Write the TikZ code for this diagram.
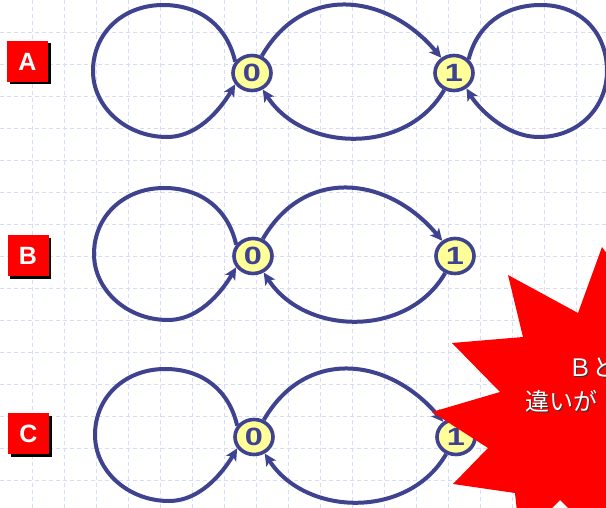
\documentclass[tikz,border=0pt]{standalone}
\usepackage{fontspec}
\usetikzlibrary{arrows.meta,shapes.geometric,shadows,calc}
\newfontfamily\labfont{Liberation Sans}
\newfontfamily\cjkfont{Noto Sans CJK JP}
\definecolor{edgeblue}{RGB}{62,66,143}
\definecolor{nodeyellow}{RGB}{255,255,153}
\definecolor{gridc}{RGB}{214,220,242}
\newcommand{\mylooplft}[1]{%
  \draw[edge] (#1.146) .. controls +(-8,-35) and +(38,0) .. ($(#1)+(-89,-68)$)
    .. controls +(-40,0) and +(0,-38) .. ($(#1)+(-159,-2)$)
    .. controls +(0,36) and +(-41,0) .. ($(#1)+(-85,64)$)
    .. controls +(35,0) and +(-10,17) .. (#1.214);}
\newcommand{\mylooprt}[1]{%
  \draw[edge] (#1.43) .. controls +(8,-33) and +(-38,0) .. ($(#1)+(87,-68)$)
    .. controls +(40,0) and +(0,-38) .. ($(#1)+(153,-2)$)
    .. controls +(0,36) and +(40,0) .. ($(#1)+(85,64)$)
    .. controls +(-35,0) and +(10,17) .. (#1.-51);}
\begin{document}
\begin{tikzpicture}[x=1pt,y=-1pt,
  gridline/.style={gridc, line width=0.9pt, dash pattern=on 4pt off 3pt},
  state/.style={ellipse, draw=edgeblue, fill=nodeyellow, line width=3.6pt,
    minimum width=38pt, minimum height=35pt, inner sep=0pt, text=edgeblue,
    font=\labfont\bfseries\fontsize{25}{25}\selectfont},
  edge/.style={draw=edgeblue, line width=4pt,
    -{Stealth[length=12pt,width=11.5pt,inset=3pt]}},
  rowlabel/.style={fill=red, minimum size=41pt, inner sep=0pt, text=white,
    font=\labfont\bfseries\fontsize{25}{25}\selectfont,
    drop shadow={shadow xshift=2.5pt, shadow yshift=-2.5pt, fill=black, opacity=1}},
  startext/.style={font=\cjkfont\fontsize{24}{24}\selectfont, inner sep=0pt, anchor=base west},
  star/.style={fill=red, draw=none}
]
\useasboundingbox (0,0) rectangle (606,508);
\fill[white] (0,0) rectangle (606,508);
% grid
\foreach \gx in {32,64,...,576} \draw[gridline] (\gx,0) -- (\gx,508);
\foreach \gy in {32,64,...,480} \draw[gridline] (0,\gy) -- (606,\gy);

% row labels
\node[rowlabel] (la) at (27.5,61.5) {A};
\node[rowlabel] (lb) at (28,256) {B};
\node[rowlabel] (lc) at (28.5,433.5) {C};

% states
\node[state] (a0) at (252,73) {\scalebox{1.3}[1]{0}};
\node[state] (a1) at (454,73) {\scalebox{1.3}[1]{1}};
\node[state] (b0) at (253,256) {\scalebox{1.3}[1]{0}};
\node[state] (b1) at (455,256) {\scalebox{1.3}[1]{1}};
\node[state] (c0) at (254,437) {\scalebox{1.3}[1]{0}};
\node[state] (c1) at (456,437) {\scalebox{1.3}[1]{1}};

% row A
\mylooplft{a0}
\draw[edge] (a0) to[out=60, in=130, looseness=1.2] (a1);
\draw[edge] (a1) to[out=-120, in=-57, looseness=1.06] (a0);
\mylooprt{a1}
% row B
\mylooplft{b0}
\draw[edge] (b0) to[out=60, in=130, looseness=1.2] (b1);
\draw[edge] (b1) to[out=-120, in=-57, looseness=1.06] (b0);
% row C
\mylooplft{c0}
\draw[edge] (c0) to[out=60, in=130, looseness=1.2] (c1);
\draw[edge] (c1) to[out=-120, in=-57, looseness=1.06] (c0);

% starburst
\fill[star] (640,300) -- (602,247) -- (578,313) -- (508,275) -- (523,337)
  -- (452,343) -- (500,392) -- (432,412) -- (488,448) -- (453,484)
  -- (515,493) -- (520,540) -- (560,500) -- (620,560) -- (700,420) -- cycle;
\node[startext, text=black!80] (t1s) at (569.5,377.5) {Ｂと};
\node[startext, text=white] (t1) at (568,376) {Ｂと};
\node[startext, text=black!80] (t2s) at (526.5,411.5) {違いが};
\node[startext, text=white] (t2) at (525,410) {違いが};
\end{tikzpicture}
\end{document}
